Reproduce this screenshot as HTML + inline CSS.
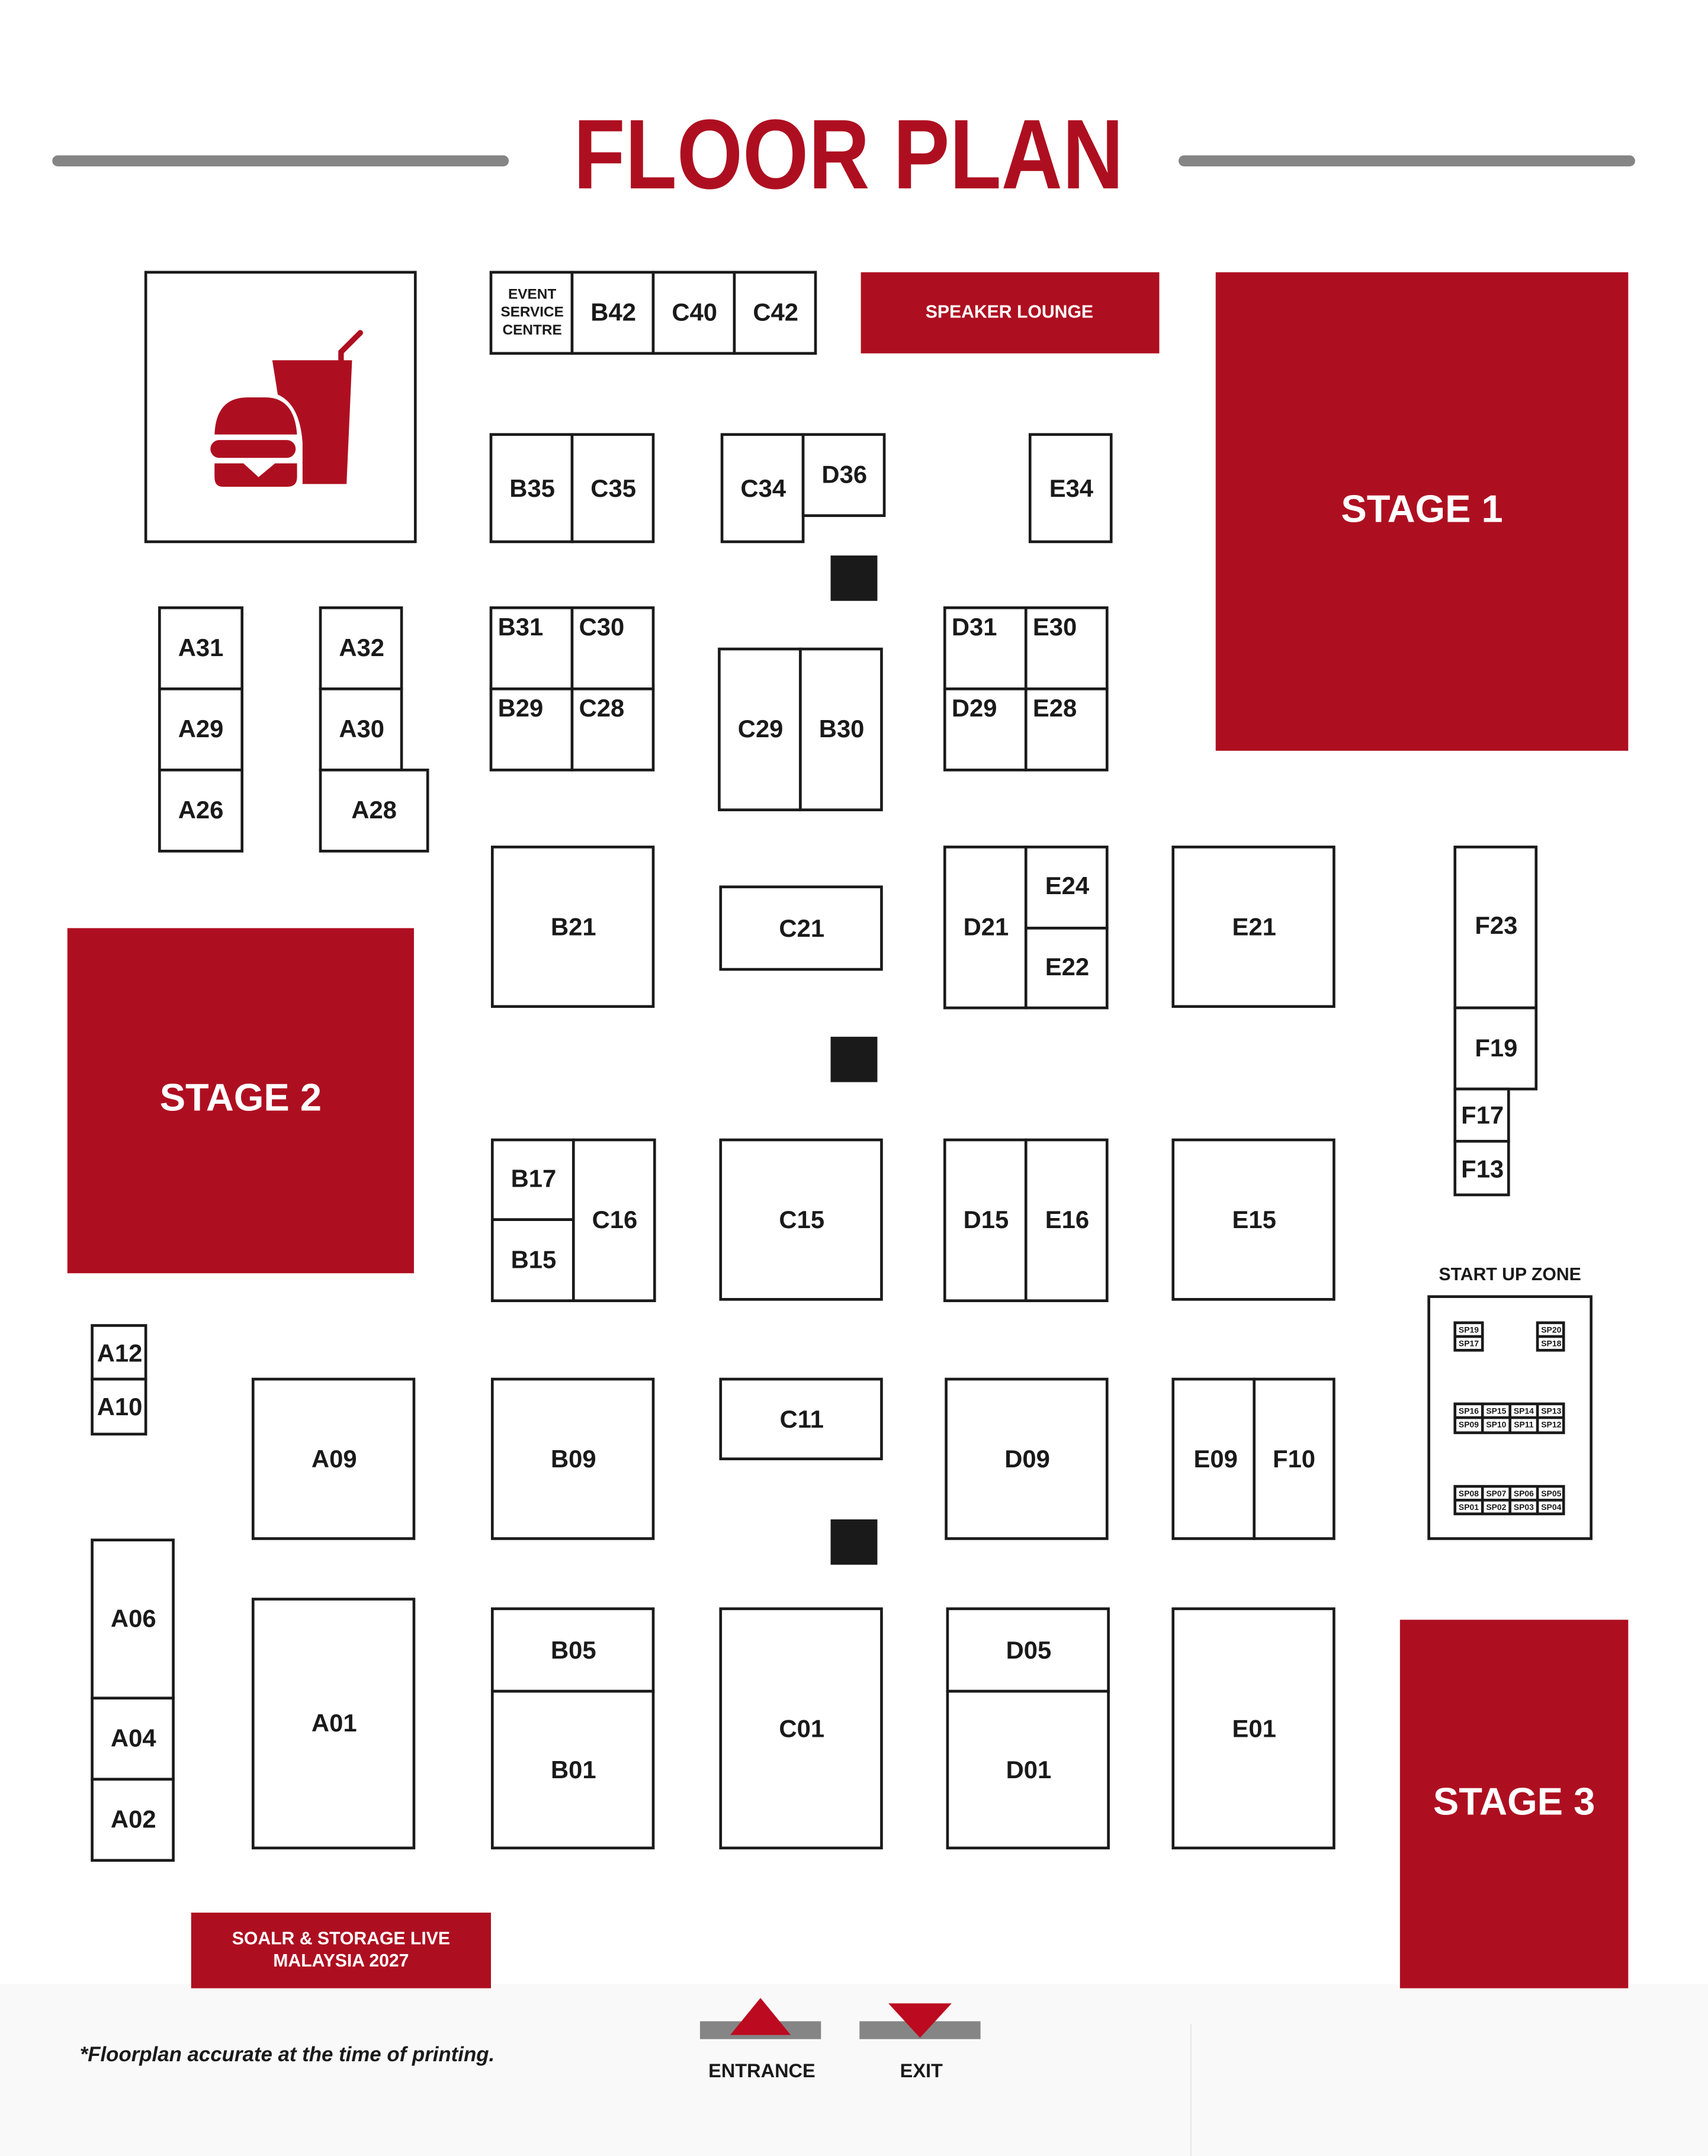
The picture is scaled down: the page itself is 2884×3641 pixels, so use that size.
<!DOCTYPE html>
<html><head><meta charset="utf-8"><style>
html,body{margin:0;padding:0;background:#fff;}
svg{display:block;}
text{font-family:"Liberation Sans",Arial,sans-serif;font-weight:bold;}
.b{fill:#fff;stroke:#1a1a1a;stroke-width:2;}
.l{font-size:18px;fill:#1a1a1a;text-anchor:middle;dominant-baseline:central;}
.tl{font-size:18px;fill:#1a1a1a;}
.s{font-size:6px;fill:#1a1a1a;text-anchor:middle;dominant-baseline:central;}
.r{fill:#ae0f20;}
</style></head><body>
<svg width="2884" height="3641" viewBox="0 0 1242 1568" xmlns="http://www.w3.org/2000/svg">
<rect x="0" y="0" width="1242" height="1568" fill="#fff"/>
<rect x="0" y="1443" width="1242" height="125" fill="#faf9f9"/>
<line x1="866" y1="1472" x2="866" y2="1568" stroke="#e8e6e6" stroke-width="1"/>
<line x1="42" y1="117" x2="366" y2="117" stroke="#858585" stroke-width="8" stroke-linecap="round"/>
<line x1="861" y1="117" x2="1185" y2="117" stroke="#858585" stroke-width="8" stroke-linecap="round"/>
<text x="617" y="137" textLength="400" lengthAdjust="spacingAndGlyphs" font-size="72" fill="#ae0f20" text-anchor="middle">FLOOR PLAN</text>

<rect class="b" x="106" y="198" width="196" height="196"/>
<path class="r" d="M198,262 L256,262 L252,352 L220,352 L220,322 Q218,294 202,287 Z"/>
<path d="M248,262 L248,256 L262,242" stroke="#ae0f20" stroke-width="4" stroke-linecap="round" fill="none"/>
<path class="r" d="M156,316 Q157,289 180,289 L193,289 Q214,289 216,316 Z"/>
<rect class="r" x="153" y="320" width="62" height="13" rx="6.5"/>
<path class="r" d="M156,337 L177,337 L188,347 L200,337 L216,337 L216,347 Q216,354 209,354 L162,354 Q156,354 156,347 Z"/>

<rect class="b" x="357" y="198" width="59" height="59"/>
<text class="l" x="387" y="214" style="font-size:10.5px">EVENT</text>
<text class="l" x="387" y="227" style="font-size:10.5px">SERVICE</text>
<text class="l" x="387" y="240" style="font-size:10.5px">CENTRE</text>
<rect class="b" x="416" y="198" width="59" height="59"/><text class="l" x="446" y="227">B42</text>
<rect class="b" x="475" y="198" width="59" height="59"/><text class="l" x="505" y="227">C40</text>
<rect class="b" x="534" y="198" width="59" height="59"/><text class="l" x="564" y="227">C42</text>
<rect class="r" x="626" y="198" width="217" height="59"/>
<text class="l" x="734" y="227" style="font-size:13px;fill:#fff">SPEAKER LOUNGE</text>
<rect class="r" x="884" y="198" width="300" height="348"/>
<text class="l" x="1034" y="370" style="font-size:28px;fill:#fff">STAGE 1</text>

<rect class="b" x="357" y="316" width="59" height="78"/><text class="l" x="387" y="355">B35</text>
<rect class="b" x="416" y="316" width="59" height="78"/><text class="l" x="446" y="355">C35</text>
<rect class="b" x="525" y="316" width="59" height="78"/><text class="l" x="555" y="355">C34</text>
<rect class="b" x="584" y="316" width="59" height="59"/><text class="l" x="614" y="345">D36</text>
<rect class="b" x="749" y="316" width="59" height="78"/><text class="l" x="779" y="355">E34</text>
<rect x="604" y="404" width="34" height="33" fill="#1a1a1a"/>

<rect class="b" x="116" y="442" width="60" height="59"/><text class="l" x="146" y="471">A31</text>
<rect class="b" x="116" y="501" width="60" height="59"/><text class="l" x="146" y="530">A29</text>
<rect class="b" x="116" y="560" width="60" height="59"/><text class="l" x="146" y="589">A26</text>
<rect class="b" x="233" y="442" width="59" height="59"/><text class="l" x="263" y="471">A32</text>
<rect class="b" x="233" y="501" width="59" height="59"/><text class="l" x="263" y="530">A30</text>
<rect class="b" x="233" y="560" width="78" height="59"/><text class="l" x="272" y="589">A28</text>

<rect class="b" x="357" y="442" width="59" height="59"/><text class="tl" x="362" y="462">B31</text>
<rect class="b" x="416" y="442" width="59" height="59"/><text class="tl" x="421" y="462">C30</text>
<rect class="b" x="357" y="501" width="59" height="59"/><text class="tl" x="362" y="521">B29</text>
<rect class="b" x="416" y="501" width="59" height="59"/><text class="tl" x="421" y="521">C28</text>

<rect class="b" x="523" y="472" width="59" height="117"/><text class="l" x="553" y="530">C29</text>
<rect class="b" x="582" y="472" width="59" height="117"/><text class="l" x="612" y="530">B30</text>

<rect class="b" x="687" y="442" width="59" height="59"/><text class="tl" x="692" y="462">D31</text>
<rect class="b" x="746" y="442" width="59" height="59"/><text class="tl" x="751" y="462">E30</text>
<rect class="b" x="687" y="501" width="59" height="59"/><text class="tl" x="692" y="521">D29</text>
<rect class="b" x="746" y="501" width="59" height="59"/><text class="tl" x="751" y="521">E28</text>

<rect class="b" x="358" y="616" width="117" height="116"/><text class="l" x="417" y="674">B21</text>
<rect class="b" x="524" y="645" width="117" height="60"/><text class="l" x="583" y="675">C21</text>
<rect class="b" x="687" y="616" width="59" height="117"/><text class="l" x="717" y="674">D21</text>
<rect class="b" x="746" y="616" width="59" height="59"/><text class="l" x="776" y="644">E24</text>
<rect class="b" x="746" y="675" width="59" height="58"/><text class="l" x="776" y="703">E22</text>
<rect class="b" x="853" y="616" width="117" height="116"/><text class="l" x="912" y="674">E21</text>
<rect class="b" x="1058" y="616" width="59" height="117"/><text class="l" x="1088" y="673">F23</text>
<rect class="b" x="1058" y="733" width="59" height="59"/><text class="l" x="1088" y="762">F19</text>
<rect class="b" x="1058" y="792" width="39" height="38"/><text class="l" x="1078" y="811">F17</text>
<rect class="b" x="1058" y="830" width="39" height="39"/><text class="l" x="1078" y="850">F13</text>

<rect class="r" x="49" y="675" width="252" height="251"/>
<text class="l" x="175" y="798" style="font-size:28px;fill:#fff">STAGE 2</text>
<rect x="604" y="754" width="34" height="33" fill="#1a1a1a"/>

<rect class="b" x="358" y="829" width="59" height="58"/><text class="l" x="388" y="857">B17</text>
<rect class="b" x="358" y="887" width="59" height="59"/><text class="l" x="388" y="916">B15</text>
<rect class="b" x="417" y="829" width="59" height="117"/><text class="l" x="447" y="887">C16</text>
<rect class="b" x="524" y="829" width="117" height="116"/><text class="l" x="583" y="887">C15</text>
<rect class="b" x="687" y="829" width="59" height="117"/><text class="l" x="717" y="887">D15</text>
<rect class="b" x="746" y="829" width="59" height="117"/><text class="l" x="776" y="887">E16</text>
<rect class="b" x="853" y="829" width="117" height="116"/><text class="l" x="912" y="887">E15</text>

<text class="l" x="1098" y="927" style="font-size:13px">START UP ZONE</text>
<rect class="b" x="1039" y="943" width="118" height="176"/>
<g>
<rect x="1057" y="961" width="22" height="22" fill="#1a1a1a"/>
<rect x="1059" y="963" width="18" height="8" fill="#fff"/><rect x="1059" y="973" width="18" height="8" fill="#fff"/>
<text class="s" x="1068" y="967">SP19</text><text class="s" x="1068" y="977">SP17</text>
<rect x="1117" y="961" width="21" height="22" fill="#1a1a1a"/>
<rect x="1119" y="963" width="17" height="8" fill="#fff"/><rect x="1119" y="973" width="17" height="8" fill="#fff"/>
<text class="s" x="1128" y="967">SP20</text><text class="s" x="1128" y="977">SP18</text>

<rect x="1057" y="1020" width="81" height="23" fill="#1a1a1a"/>
<rect x="1059" y="1022" width="18" height="8" fill="#fff"/><rect x="1079" y="1022" width="18" height="8" fill="#fff"/><rect x="1099" y="1022" width="18" height="8" fill="#fff"/><rect x="1119" y="1022" width="17" height="8" fill="#fff"/>
<rect x="1059" y="1032" width="18" height="9" fill="#fff"/><rect x="1079" y="1032" width="18" height="9" fill="#fff"/><rect x="1099" y="1032" width="18" height="9" fill="#fff"/><rect x="1119" y="1032" width="17" height="9" fill="#fff"/>
<text class="s" x="1068" y="1026">SP16</text><text class="s" x="1088" y="1026">SP15</text><text class="s" x="1108" y="1026">SP14</text><text class="s" x="1128" y="1026">SP13</text>
<text class="s" x="1068" y="1036">SP09</text><text class="s" x="1088" y="1036">SP10</text><text class="s" x="1108" y="1036">SP11</text><text class="s" x="1128" y="1036">SP12</text>

<rect x="1057" y="1080" width="81" height="22" fill="#1a1a1a"/>
<rect x="1059" y="1082" width="18" height="8" fill="#fff"/><rect x="1079" y="1082" width="18" height="8" fill="#fff"/><rect x="1099" y="1082" width="18" height="8" fill="#fff"/><rect x="1119" y="1082" width="17" height="8" fill="#fff"/>
<rect x="1059" y="1092" width="18" height="8" fill="#fff"/><rect x="1079" y="1092" width="18" height="8" fill="#fff"/><rect x="1099" y="1092" width="18" height="8" fill="#fff"/><rect x="1119" y="1092" width="17" height="8" fill="#fff"/>
<text class="s" x="1068" y="1086">SP08</text><text class="s" x="1088" y="1086">SP07</text><text class="s" x="1108" y="1086">SP06</text><text class="s" x="1128" y="1086">SP05</text>
<text class="s" x="1068" y="1096">SP01</text><text class="s" x="1088" y="1096">SP02</text><text class="s" x="1108" y="1096">SP03</text><text class="s" x="1128" y="1096">SP04</text>
</g>

<rect class="b" x="67" y="964" width="39" height="39"/><text class="l" x="87" y="984">A12</text>
<rect class="b" x="67" y="1003" width="39" height="40"/><text class="l" x="87" y="1023">A10</text>
<rect class="b" x="184" y="1003" width="117" height="116"/><text class="l" x="243" y="1061">A09</text>
<rect class="b" x="358" y="1003" width="117" height="116"/><text class="l" x="417" y="1061">B09</text>
<rect class="b" x="524" y="1003" width="117" height="58"/><text class="l" x="583" y="1032">C11</text>
<rect class="b" x="688" y="1003" width="117" height="116"/><text class="l" x="747" y="1061">D09</text>
<rect class="b" x="853" y="1003" width="59" height="116"/><text class="l" x="884" y="1061">E09</text>
<rect class="b" x="912" y="1003" width="58" height="116"/><text class="l" x="941" y="1061">F10</text>
<rect x="604" y="1105" width="34" height="33" fill="#1a1a1a"/>

<rect class="b" x="67" y="1120" width="59" height="115"/><text class="l" x="97" y="1177">A06</text>
<rect class="b" x="67" y="1235" width="59" height="59"/><text class="l" x="97" y="1264">A04</text>
<rect class="b" x="67" y="1294" width="59" height="59"/><text class="l" x="97" y="1323">A02</text>
<rect class="b" x="184" y="1163" width="117" height="181"/><text class="l" x="243" y="1253">A01</text>
<rect class="b" x="358" y="1170" width="117" height="60"/><text class="l" x="417" y="1200">B05</text>
<rect class="b" x="358" y="1230" width="117" height="114"/><text class="l" x="417" y="1287">B01</text>
<rect class="b" x="524" y="1170" width="117" height="174"/><text class="l" x="583" y="1257">C01</text>
<rect class="b" x="689" y="1170" width="117" height="60"/><text class="l" x="748" y="1200">D05</text>
<rect class="b" x="689" y="1230" width="117" height="114"/><text class="l" x="748" y="1287">D01</text>
<rect class="b" x="853" y="1170" width="117" height="174"/><text class="l" x="912" y="1257">E01</text>

<rect class="r" x="1018" y="1178" width="166" height="268"/>
<text class="l" x="1101" y="1310" style="font-size:28px;fill:#fff">STAGE 3</text>

<rect class="r" x="139" y="1391" width="218" height="55"/>
<text class="l" x="248" y="1410" style="font-size:13px;fill:#fff">SOALR &amp; STORAGE LIVE</text>
<text class="l" x="248" y="1426" style="font-size:13px;fill:#fff">MALAYSIA 2027</text>

<text x="58" y="1499" font-size="15" font-style="italic" fill="#1a1a1a">*Floorplan accurate at the time of printing.</text>

<rect x="509" y="1470" width="88" height="13" fill="#858585"/>
<polygon points="553,1453 531,1480 575,1480" fill="#bc0a20"/>
<rect x="625" y="1470" width="88" height="13" fill="#858585"/>
<polygon points="646,1457 692,1457 669,1482" fill="#bc0a20"/>
<text class="l" x="554" y="1506" style="font-size:14px">ENTRANCE</text>
<text class="l" x="670" y="1506" style="font-size:14px">EXIT</text>
</svg>
</body></html>
